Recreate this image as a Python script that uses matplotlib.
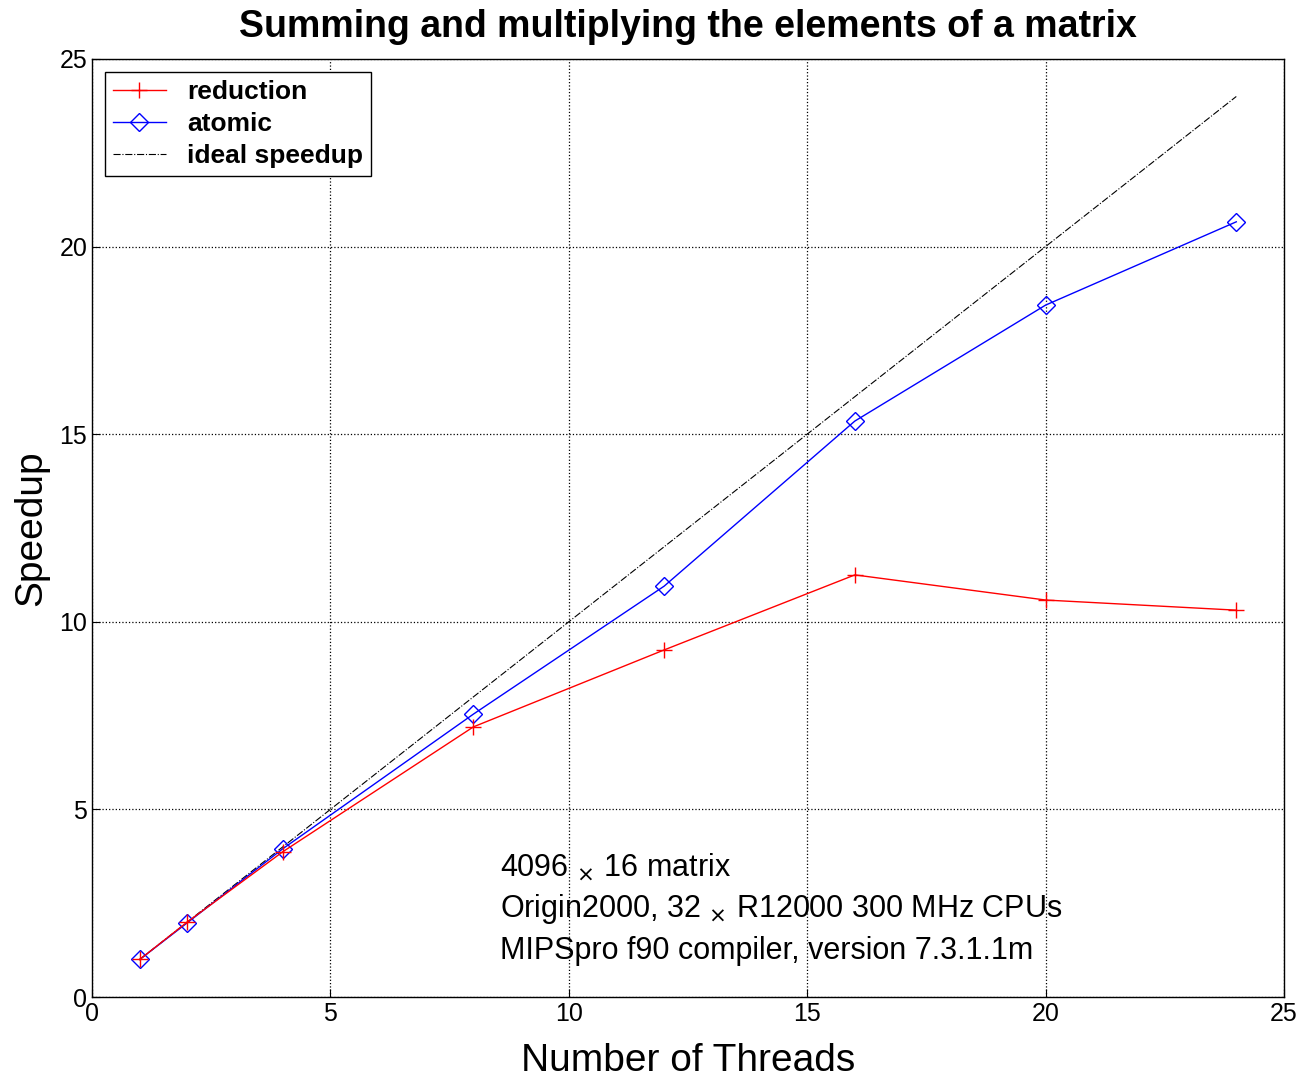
import matplotlib
matplotlib.use("Agg")
import matplotlib.pyplot as plt

threads = [1, 2, 4, 8, 12, 16, 20, 24]
reduction = [1.0, 2.0, 3.87, 7.2, 9.25, 11.25, 10.58, 10.31]
atomic = [1.0, 1.98, 3.95, 7.54, 10.95, 15.35, 18.44, 20.66]
ideal = [1, 24]

plt.rcParams['font.family'] = ['Liberation Sans', 'DejaVu Sans']

fig = plt.figure(figsize=(13.03, 10.76), dpi=100)
ax = fig.add_axes([0.0706, 0.0734, 0.9148, 0.8718])

l1, = ax.plot(threads, reduction, color='red', marker='+', markersize=12, markeredgewidth=1.0,
              linewidth=1.0, label='reduction', zorder=4)
l2, = ax.plot(threads, atomic, color='blue', marker='D', markersize=9.5, markerfacecolor='none',
              markeredgewidth=1.0, linewidth=1.0, label='atomic', zorder=3)
l3, = ax.plot(ideal, ideal, color='black', linestyle='-.', linewidth=0.8, label='ideal speedup', zorder=2)

ax.set_xlim(0, 25)
ax.set_ylim(0, 25)
ax.set_xticks([0, 5, 10, 15, 20, 25])
ax.set_yticks([0, 5, 10, 15, 20, 25])
ax.grid(True, linestyle=':', color='black', linewidth=0.9)
ax.tick_params(direction='in', labelsize=18, length=6)
for s in ax.spines.values():
    s.set_linewidth(1.0)

ax.set_title('Summing and multiplying the elements of a matrix', fontsize=27, fontweight='bold', pad=16)
ax.set_xlabel('Number of Threads', fontsize=28, labelpad=12)
ax.set_ylabel('Speedup', fontsize=28, labelpad=7)

leg = ax.legend(handles=[l1, l2, l3], loc='upper left', prop={'weight': 'bold', 'size': 19},
                frameon=True, fancybox=False, edgecolor='black', framealpha=1,
                handlelength=2.0, handletextpad=0.8, borderaxespad=0.5, labelspacing=0.3,
                borderpad=0.3)
leg.get_frame().set_linewidth(1.0)

lines = ['4096 $_{\\times}$ 16 matrix',
         'Origin2000, 32 $_{\\times}$ R12000 300 MHz CPUs',
         'MIPSpro f90 compiler, version 7.3.1.1m']
for i, t in enumerate(lines):
    ax.text(8.55, 3.45 - i * 1.11, t, fontsize=22, va='center', ha='left')

fig.savefig('out.png', dpi=100)
